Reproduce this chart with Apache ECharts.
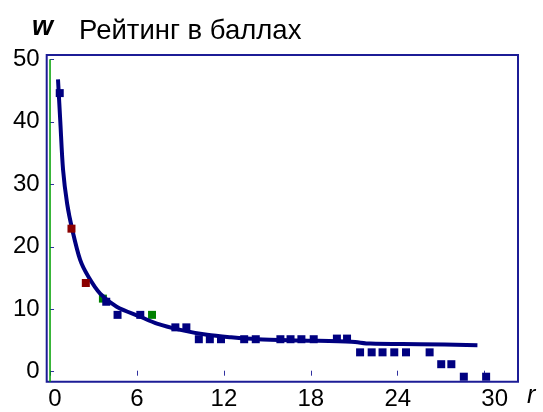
<!DOCTYPE html>
<html>
<head>
<meta charset="utf-8">
<script src="https://cdn.jsdelivr.net/npm/echarts@6/dist/echarts.min.js"></script>
<style>html,body{margin:0;padding:0;background:#fff}#c{width:543px;height:412px}</style>
</head>
<body>
<div id="c"></div>
<script>
// Data
var xTicks = [0, 6, 12, 18, 24, 30];
var yTicks = [0, 10, 20, 30, 40, 50];
var blueR = [0.67, 3.88, 4.66, 6.23, 8.65, 9.41, 10.27, 11.03, 11.8, 13.4, 14.2, 15.9, 16.6, 17.35, 18.2, 19.8, 20.5, 21.4, 22.2, 22.95, 23.76, 24.57, 26.2, 27.0, 27.7, 28.56, 30.1];
var blueW = [44.6, 11.2, 9.1, 9.1, 7.1, 7.1, 5.2, 5.2, 5.2, 5.2, 5.2, 5.2, 5.2, 5.2, 5.2, 5.3, 5.3, 3.1, 3.1, 3.1, 3.1, 3.1, 3.1, 1.2, 1.2, -0.8, -0.8];
var redR = [1.48, 2.47];
var redW = [22.9, 14.2];
var greenR = [3.65, 7.04];
var greenW = [11.7, 9.1];
var curveR = [0.55, 0.71, 0.9, 1.18, 1.52, 2.08, 2.65, 3.46, 4.6, 6.23, 7.38, 9.0, 10.84, 12.5, 14.3, 17.3, 20.8, 22.1, 25.5, 29.5];
var curveW = [46.8, 40, 32.3, 26.9, 22.9, 17.9, 15.2, 12.5, 10.4, 8.8, 7.7, 6.7, 5.9, 5.5, 5.2, 5.0, 4.8, 4.5, 4.4, 4.25];

function zip(a, b) { return a.map(function (v, i) { return [v, b[i]]; }); }

var NAVY = '#000080';
var chart = echarts.init(document.getElementById('c'), null, {renderer: 'canvas'});
var FONT = 'Liberation Sans, Arial, sans-serif';
chart.setOption({
  animation: false,
  backgroundColor: '#fff',
  grid: {left: 46.7, top: 55, right: 25, bottom: 30.3, show: true, borderColor: '#1c1c96', borderWidth: 2, backgroundColor: 'transparent'},
  xAxis: [{
    type: 'value', min: -0.23, max: 32.3,
    splitLine: {show: false},
    axisLine: {show: false},
    axisTick: {show: false},
    axisLabel: {
      customValues: xTicks, margin: 6, color: '#000', fontSize: 24, fontFamily: FONT,
      formatter: function (v) {
        if (v === 0) return '{a|0}';
        if (v === 30) return '{b|30}';
        return String(v);
      },
      rich: {
        a: {fontSize: 24, fontFamily: FONT, color: '#000', padding: [0, 0, 0, 10]},
        b: {fontSize: 24, fontFamily: FONT, color: '#000', padding: [0, 0, 0, 20]}
      }
    }
  }, {
    type: 'value', min: -0.23, max: 32.3, position: 'bottom', offset: -6,
    splitLine: {show: false},
    axisLine: {show: false},
    axisTick: {show: true, inside: true, length: 5, customValues: xTicks, lineStyle: {color: '#3030a0', width: 1}},
    axisLabel: {show: false}
  }],
  yAxis: {
    type: 'value', min: -1.6, max: 50.7,
    splitLine: {show: false},
    axisLine: {show: false},
    axisTick: {show: true, inside: true, length: 4, customValues: yTicks, lineStyle: {color: '#3030a0', width: 1}},
    axisLabel: {customValues: yTicks, margin: 7, color: '#000', fontSize: 24, fontFamily: FONT}
  },
  series: [
    {type: 'line', data: [[0, -1.6], [0, 50]], symbol: 'none', lineStyle: {color: '#00a000', width: 1.5}, silent: true, z: 1},
    {type: 'scatter', data: zip(greenR, greenW), symbol: 'rect', symbolSize: 8, itemStyle: {color: '#008000', opacity: 1}, z: 2},
    {type: 'line', data: zip(curveR, curveW), symbol: 'none', smooth: 0.3, lineStyle: {color: NAVY, width: 4}, z: 3},
    {type: 'scatter', data: zip(blueR, blueW), symbol: 'rect', symbolSize: 8, itemStyle: {color: NAVY, opacity: 1}, z: 4},
    {type: 'scatter', data: zip(redR, redW), symbol: 'rect', symbolSize: 8, itemStyle: {color: '#8b0000', opacity: 1}, z: 5}
  ],
  graphic: [
    {type: 'text', left: 32, top: 14, style: {text: 'w', fontSize: 27, fontStyle: 'italic', fontWeight: 'bold', fontFamily: FONT, fill: '#000'}},
    {type: 'text', left: 79, top: 17, style: {text: 'Рейтинг в баллах', fontSize: 27.5, fontFamily: FONT, fill: '#000'}},
    {type: 'text', left: 527, top: 384, style: {text: 'r', fontSize: 25, fontStyle: 'italic', fontFamily: FONT, fill: '#000'}}
  ]
});
</script>
</body>
</html>
